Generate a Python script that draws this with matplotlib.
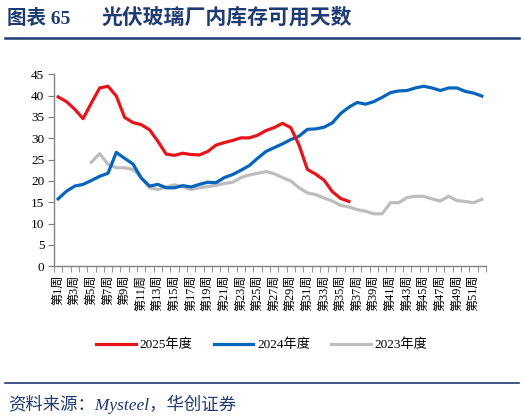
import matplotlib
matplotlib.use("Agg")
import matplotlib.pyplot as plt
from matplotlib.lines import Line2D

plt.rcParams['font.family'] = ['Liberation Serif', 'Noto Sans CJK SC']

# 数据：周次与各年度库存可用天数
weeks = list(range(1, 53))
week_labels = ["第%d周" % w for w in weeks]

y2025 = [39.7, 38.6, 36.8, 34.6, 38.3, 41.8, 42.2, 39.9, 34.9, 33.7,
         33.2, 32.0, 29.3, 26.3, 26.0, 26.5, 26.2, 26.1, 26.9, 28.4,
         29.0, 29.5, 30.1, 30.1, 30.7, 31.8, 32.5, 33.5, 32.5, 28.4,
         22.7, 21.6, 20.2, 17.5, 15.9, 15.2]
y2024 = [15.8, 17.6, 18.8, 19.2, 20.1, 21.1, 21.8, 26.7, 25.3, 24.0,
         20.7, 18.8, 19.2, 18.4, 18.4, 18.9, 18.6, 19.2, 19.7, 19.6,
         20.8, 21.5, 22.5, 23.6, 25.3, 26.9, 27.8, 28.7, 29.7, 30.5,
         32.1, 32.2, 32.6, 33.6, 35.8, 37.3, 38.4, 38.0, 38.6, 39.6,
         40.7, 41.1, 41.2, 41.8, 42.2, 41.8, 41.2, 41.8, 41.8, 41.0,
         40.6, 39.9]
y2023_start = 5
y2023 = [24.4, 26.4, 23.9, 23.1, 23.1, 22.7, 20.8, 18.4, 18.0, 18.6,
         19.1, 18.6, 18.0, 18.4, 18.7, 19.0, 19.4, 19.7, 20.8, 21.4,
         21.8, 22.2, 21.7, 20.8, 20.0, 18.4, 17.2, 16.8, 16.0, 15.3,
         14.3, 13.9, 13.3, 12.9, 12.3, 12.3, 14.9, 14.9, 16.1, 16.4,
         16.4, 15.8, 15.3, 16.4, 15.4, 15.2, 14.9, 15.7]

red = '#E8141C'
blue = '#0564BE'
gray = '#BDBDBD'
navy = '#1F3B73'

W, H = 524, 420
fig = plt.figure(figsize=(W / 100, H / 100), dpi=100)

# 标题
fig.text(7 / W, 1 - 18 / H, "图表 65", fontsize=14,
         fontweight='bold', color=navy, va='center', ha='left')
fig.text(102 / W, 1 - 18 / H, "光伏玻璃厂内库存可用天数", fontsize=15,
         fontweight='bold', color=navy, va='center', ha='left')
fig.add_artist(Line2D([5 / W, 519 / W], [1 - 38 / H, 1 - 38 / H], color=navy, lw=1.8))

ax = fig.add_axes([54 / W, 1 - 266.3 / H, (486 - 54) / W, (266.3 - 74.3) / H])

lw = 2.3
ax.plot(weeks[:len(y2025)], y2025, color=red, lw=lw, label='2025年度', zorder=4)
ax.plot(weeks, y2024, color=blue, lw=lw, label='2024年度', zorder=3)
ax.plot(weeks[y2023_start - 1:], y2023, color=gray, lw=lw, label='2023年度', zorder=2)

ax.set_xlim(0.5, 52.5)
ax.set_ylim(0, 45)
ax.set_yticks(range(0, 46, 5))
ax.tick_params(axis='y', labelsize=9.5, length=4, color='#808080', pad=3)

ax.set_xticks(weeks[::2])
ax.set_xticklabels(week_labels[::2], rotation=90, fontsize=8.7)
ax.set_xticks([w + 0.5 for w in range(0, 53)], minor=True)
ax.tick_params(axis='x', which='major', length=0, pad=6)
ax.tick_params(axis='x', which='minor', length=4, color='#808080')

for s in ['top', 'right']:
    ax.spines[s].set_visible(False)
for s in ['left', 'bottom']:
    ax.spines[s].set_color('#808080')
    ax.spines[s].set_linewidth(1.0)

# 图例
fig.legend(loc='center', bbox_to_anchor=(0.5, 1 - 345 / H), ncol=3, frameon=False,
           fontsize=9.5, handlelength=3.0, handletextpad=0.3, columnspacing=1.6)

fig.add_artist(Line2D([5 / W, 519 / W], [1 - 383 / H, 1 - 383 / H], color=navy, lw=1.2))
fig.text(8 / W, 1 - 404 / H, "资料来源：Mysteel，华创证券", fontsize=12.5, style='italic',
         color=navy, va='center', ha='left')

fig.savefig('out.png', dpi=100)
